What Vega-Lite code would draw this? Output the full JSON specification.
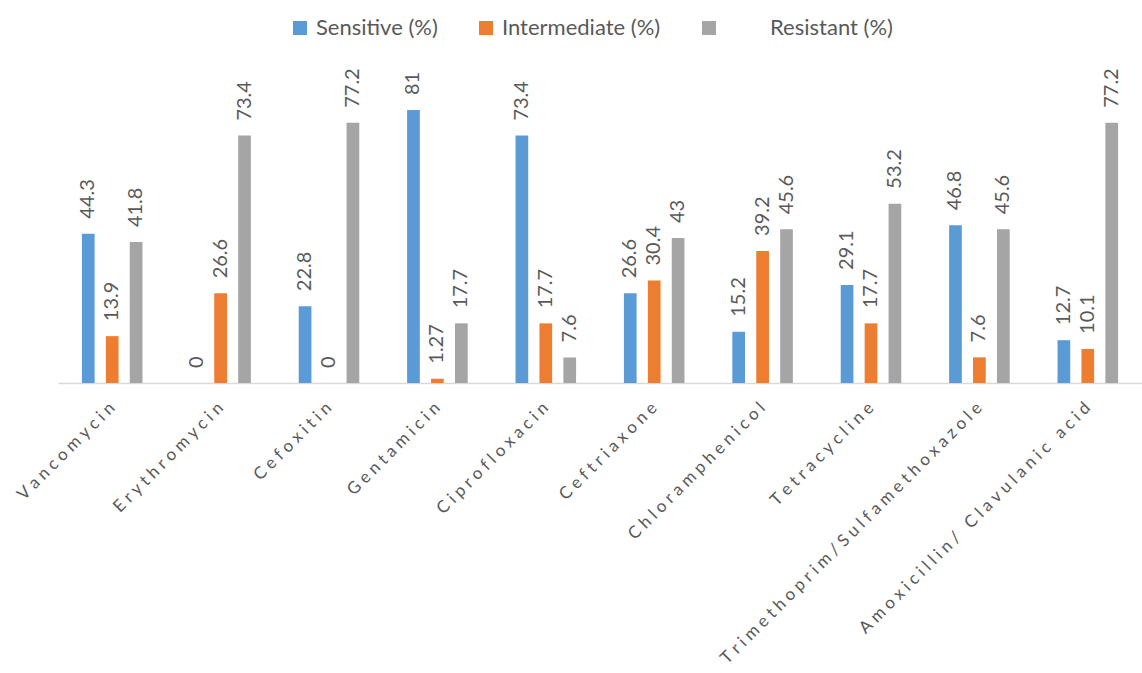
{
  "$schema": "https://vega.github.io/schema/vega-lite/v6.json",
  "width": 1084,
  "height": 273,
  "autosize": {"type": "none"},
  "padding": {"left": 58, "top": 110, "right": 0, "bottom": 290},
  "background": "white",
  "config": {"view": {"stroke": null}, "font": "Lato"},
  "data": {
    "values": [
      {"drug": "Vancomycin", "series": "Sensitive (%)", "value": 44.3},
      {"drug": "Vancomycin", "series": "Intermediate (%)", "value": 13.9},
      {"drug": "Vancomycin", "series": "Resistant (%)", "value": 41.8},
      {"drug": "Erythromycin", "series": "Sensitive (%)", "value": 0},
      {"drug": "Erythromycin", "series": "Intermediate (%)", "value": 26.6},
      {"drug": "Erythromycin", "series": "Resistant (%)", "value": 73.4},
      {"drug": "Cefoxitin", "series": "Sensitive (%)", "value": 22.8},
      {"drug": "Cefoxitin", "series": "Intermediate (%)", "value": 0},
      {"drug": "Cefoxitin", "series": "Resistant (%)", "value": 77.2},
      {"drug": "Gentamicin", "series": "Sensitive (%)", "value": 81},
      {"drug": "Gentamicin", "series": "Intermediate (%)", "value": 1.27},
      {"drug": "Gentamicin", "series": "Resistant (%)", "value": 17.7},
      {"drug": "Ciprofloxacin", "series": "Sensitive (%)", "value": 73.4},
      {"drug": "Ciprofloxacin", "series": "Intermediate (%)", "value": 17.7},
      {"drug": "Ciprofloxacin", "series": "Resistant (%)", "value": 7.6},
      {"drug": "Ceftriaxone", "series": "Sensitive (%)", "value": 26.6},
      {"drug": "Ceftriaxone", "series": "Intermediate (%)", "value": 30.4},
      {"drug": "Ceftriaxone", "series": "Resistant (%)", "value": 43},
      {"drug": "Chloramphenicol", "series": "Sensitive (%)", "value": 15.2},
      {"drug": "Chloramphenicol", "series": "Intermediate (%)", "value": 39.2},
      {"drug": "Chloramphenicol", "series": "Resistant (%)", "value": 45.6},
      {"drug": "Tetracycline", "series": "Sensitive (%)", "value": 29.1},
      {"drug": "Tetracycline", "series": "Intermediate (%)", "value": 17.7},
      {"drug": "Tetracycline", "series": "Resistant (%)", "value": 53.2},
      {"drug": "Trimethoprim/Sulfamethoxazole", "series": "Sensitive (%)", "value": 46.8},
      {"drug": "Trimethoprim/Sulfamethoxazole", "series": "Intermediate (%)", "value": 7.6},
      {"drug": "Trimethoprim/Sulfamethoxazole", "series": "Resistant (%)", "value": 45.6},
      {"drug": "Amoxicillin/ Clavulanic acid", "series": "Sensitive (%)", "value": 12.7},
      {"drug": "Amoxicillin/ Clavulanic acid", "series": "Intermediate (%)", "value": 10.1},
      {"drug": "Amoxicillin/ Clavulanic acid", "series": "Resistant (%)", "value": 77.2}
    ]
  },
  "encoding": {
    "x": {
      "field": "drug", "type": "nominal", "sort": null,
      "scale": {"paddingInner": 0, "paddingOuter": -0.0593, "align": 0},
      "axis": {
        "title": null, "ticks": false, "tickSize": 0, "labelPadding": 22,
        "labelAngle": -45, "labelAlign": "right", "labelBaseline": "middle",
        "labelFont": "Lato", "labelFontSize": 17, "labelColor": "#595959",
        "labelLimit": 500, "labelOverlap": false,
        "labelExpr": "join(split(datum.label, ''), '\u2009\u2009')",
        "domainColor": "#d9d9d9", "domainWidth": 1.5, "grid": false
      }
    },
    "xOffset": {
      "field": "series", "type": "nominal",
      "sort": ["Sensitive (%)", "Intermediate (%)", "Resistant (%)"],
      "scale": {"paddingInner": 0.469, "paddingOuter": 1.16}
    },
    "y": {
      "field": "value", "type": "quantitative",
      "scale": {"domain": [0, 81], "nice": false, "zero": true},
      "axis": null
    }
  },
  "layer": [
    {
      "mark": {"type": "bar"},
      "encoding": {
        "color": {
          "field": "series", "type": "nominal",
          "sort": ["Sensitive (%)", "Intermediate (%)", "Resistant (%)"],
          "scale": {
            "domain": ["Sensitive (%)", "Intermediate (%)", "Resistant (%)"],
            "range": ["#5b9bd5", "#ed7d31", "#a5a5a5"]
          },
          "legend": {
            "title": null, "orient": "none", "legendX": 231, "legendY": -93,
            "direction": "horizontal", "symbolType": "square", "symbolSize": 196,
            "symbolStrokeWidth": 0, "labelFont": "Lato", "labelFontSize": 22,
            "labelColor": "#595959", "columnPadding": 37, "labelOffset": 5,
            "labelLimit": 500,
            "labelExpr": "datum.value == 'Resistant (%)' ? '\u200b\u00a0\u00a0\u00a0\u00a0\u00a0\u00a0\u00a0\u00a0Resistant (%)' : datum.label"
          }
        }
      }
    },
    {
      "mark": {
        "type": "text", "angle": -90, "align": "left", "baseline": "middle",
        "dx": 15, "fontSize": 20, "font": "Lato", "color": "#595959"
      },
      "encoding": {
        "text": {"field": "value", "type": "quantitative", "format": "~g"}
      }
    }
  ]
}
